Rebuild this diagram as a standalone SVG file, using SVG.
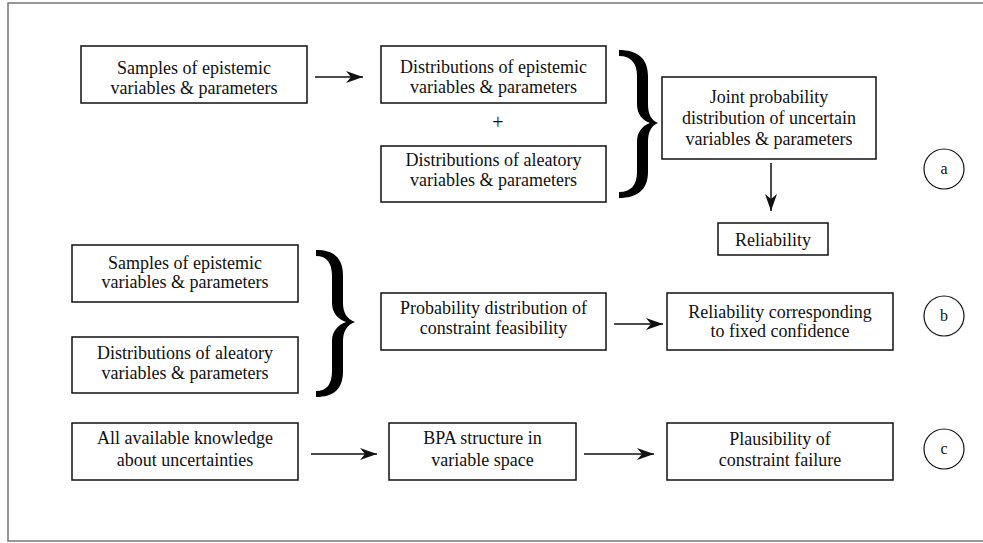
<svg xmlns="http://www.w3.org/2000/svg" width="983" height="543" viewBox="0 0 983 543">
<style>
.box{fill:#fff;stroke:#111;stroke-width:1.5}
text{font-family:'Liberation Serif','Times New Roman','DejaVu Serif',serif}
.t{font-size:18px;fill:#111;text-anchor:middle}
.c{fill:#fff;stroke:#111;stroke-width:1.2}
.ct{font-size:16px;fill:#111;text-anchor:middle}
.conn line{stroke:#111;stroke-width:1.5;marker-end:url(#ah)}
.brace{fill:#000}
</style>
<defs>
<marker id="ah" markerUnits="userSpaceOnUse" markerWidth="20" markerHeight="14" viewBox="-18 -7 20 14" refX="0" refY="0" orient="auto">
<path d="M0,0 L-17,-6 L-12,0 L-17,6 Z" fill="#111"/>
</marker>
</defs>
<rect x="0" y="0" width="983" height="543" fill="#fff"/>
<rect x="8" y="3" width="1000" height="538" fill="none" stroke="#777" stroke-width="1.5"/>

<g id="a-samples"><rect class="box" x="81" y="46" width="226" height="57"/><text class="t" x="194" y="74" font-family="Liberation Serif, serif">Samples of epistemic</text><text class="t" x="194" y="94">variables &amp; parameters</text></g>
<g id="a-epist"><rect class="box" x="381" y="46" width="225" height="57"/><text class="t" x="493.5" y="73">Distributions of epistemic</text><text class="t" x="493.5" y="93">variables &amp; parameters</text></g>
<g id="a-plus"><text class="t" x="498" y="129" style="font-size:20px">+</text></g>
<g id="a-aleat"><rect class="box" x="381" y="146" width="225" height="56"/><text class="t" x="493.5" y="166">Distributions of aleatory</text><text class="t" x="493.5" y="186">variables &amp; parameters</text></g>
<g id="a-brace"><path class="brace" d="M619,50 C637,50 648,58 648,76 L648,104 C648,114 651,120 658,123 C651,126 648,132 648,142 L648,172 C648,190 637,198 619,198 L619,192 C631,192 637,185 637,172 L637,142 C637,132 642,126 650,123 C642,120 637,114 637,104 L637,76 C637,63 631,56 619,56 Z"/></g>
<g id="a-joint"><rect class="box" x="662" y="77" width="214" height="82"/><text class="t" x="769" y="103">Joint probability</text><text class="t" x="769" y="124">distribution of uncertain</text><text class="t" x="769" y="145">variables &amp; parameters</text></g>
<g id="a-rel"><rect class="box" x="718" y="223" width="110" height="32"/><text class="t" x="773" y="246">Reliability</text></g>
<g id="a-label"><circle class="c" cx="944" cy="169" r="20"/><text class="ct" x="944" y="174">a</text></g>

<g id="b-samples"><rect class="box" x="72" y="245" width="226" height="57"/><text class="t" x="185" y="269">Samples of epistemic</text><text class="t" x="185" y="288">variables &amp; parameters</text></g>
<g id="b-aleat"><rect class="box" x="72" y="337" width="226" height="56"/><text class="t" x="185" y="359">Distributions of aleatory</text><text class="t" x="185" y="379">variables &amp; parameters</text></g>
<g id="b-brace"><path class="brace" d="M316,250 C334,250 343,258 343,276 L343,303 C343,313 347,319 355,322 C347,325 343,331 343,341 L343,371 C343,389 334,397 316,397 L316,391 C327,391 332,384 332,371 L332,341 C332,331 338,325 346,322 C338,319 332,313 332,303 L332,276 C332,263 327,256 316,256 Z"/></g>
<g id="b-prob"><rect class="box" x="381" y="293" width="225" height="57"/><text class="t" x="493.5" y="314">Probability distribution of</text><text class="t" x="493.5" y="334">constraint feasibility</text></g>
<g id="b-rel"><rect class="box" x="667" y="293" width="226" height="57"/><text class="t" x="780" y="318">Reliability corresponding</text><text class="t" x="780" y="337">to fixed confidence</text></g>
<g id="b-label"><circle class="c" cx="944" cy="316" r="20"/><text class="ct" x="944" y="321">b</text></g>

<g id="c-know"><rect class="box" x="72" y="423" width="226" height="57"/><text class="t" x="185" y="444">All available knowledge</text><text class="t" x="185" y="466">about uncertainties</text></g>
<g id="c-bpa"><rect class="box" x="389" y="423" width="187" height="57"/><text class="t" x="482.5" y="444">BPA structure in</text><text class="t" x="482.5" y="466">variable space</text></g>
<g id="c-plaus"><rect class="box" x="667" y="423" width="226" height="57"/><text class="t" x="780" y="445">Plausibility of</text><text class="t" x="780" y="466">constraint failure</text></g>
<g id="c-label"><circle class="c" cx="944" cy="449" r="20"/><text class="ct" x="944" y="454">c</text></g>

<g id="connectors" class="conn">
<line x1="315" y1="77" x2="363" y2="77"/>
<line x1="771" y1="163" x2="771" y2="211"/>
<line x1="614" y1="324" x2="663" y2="324"/>
<line x1="311" y1="454" x2="377" y2="454"/>
<line x1="584" y1="454" x2="654" y2="454"/>
</g>
</svg>
